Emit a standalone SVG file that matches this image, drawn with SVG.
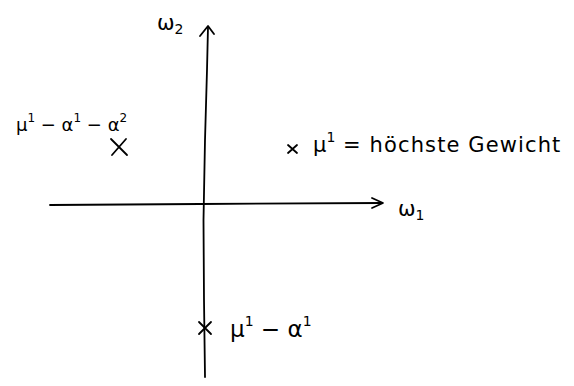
<svg xmlns="http://www.w3.org/2000/svg" width="574" height="386" viewBox="0 0 574 386">
<style>
.ln{fill:none;stroke:#000;stroke-width:1.8;stroke-linecap:round;stroke-linejoin:round}
.t{font-family:"DejaVu Sans","Liberation Sans",sans-serif;font-size:21px;fill:#000}
.s{font-size:18px}
.b{font-size:23px}
.sup{font-size:14px}
.ss{font-size:12px}
</style>
<rect width="574" height="386" fill="#fff"/>
<g id="axes">
<path class="ln" d="M205,377 L204,300 L203.5,220 L205,140 L207,70 L208,27"/>
<path class="ln" d="M200,36 L208,26 L214,34"/>
<path class="ln" d="M50,205 L200,204 L382,203"/>
<path class="ln" d="M372,198 L383,203 L372,208"/>
</g>
<g id="labels">
<text class="t" x="157" y="30">ω<tspan class="sup" dy="4">2</tspan></text>
<text class="t" x="398" y="216">ω<tspan class="sup" dy="4">1</tspan></text>
<text class="t s" x="16" y="131">μ<tspan class="ss" dy="-9">1</tspan><tspan dy="9"> − α</tspan><tspan class="ss" dy="-9">1</tspan><tspan dy="9"> − α</tspan><tspan class="ss" dy="-9">2</tspan></text>
<text class="t" x="313" y="152">μ<tspan class="sup" dy="-10">1</tspan><tspan dy="10" textLength="225"> = höchste Gewicht</tspan></text>
<text class="t b" x="230" y="337">μ<tspan class="sup" dy="-11">1</tspan><tspan dy="11"> − α</tspan><tspan class="sup" dy="-11">1</tspan></text>
</g>
<g id="crosses">
<path class="ln" d="M111,139 L127,155 M126,139 L112,155"/>
<path class="ln" d="M288,145 L297,153 M297,145 L288,153"/>
<path class="ln" d="M199,322 L211,334 M211,322 L199,334"/>
</g>
</svg>
